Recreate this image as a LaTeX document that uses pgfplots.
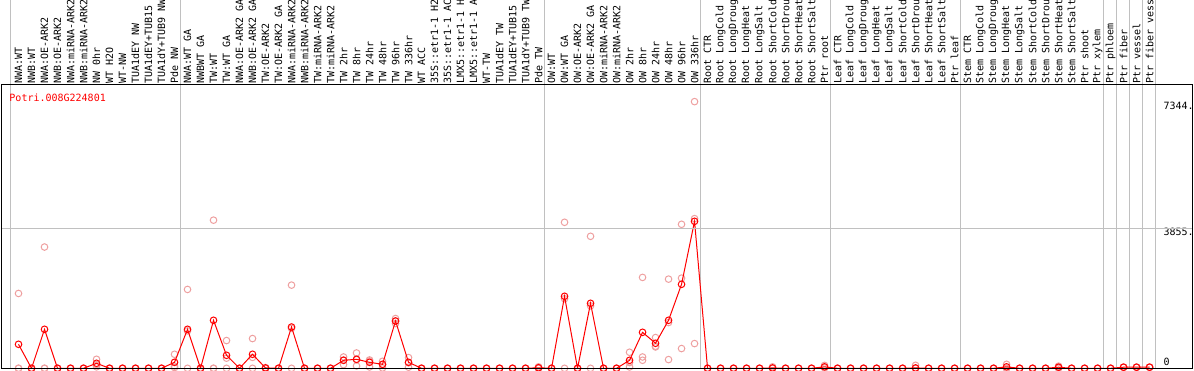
\documentclass[border=0pt]{standalone}
\usepackage{fontspec}
\setmainfont{DejaVu Sans Mono}
\usepackage{pgfplots}
\usepackage{pgfplotstable}
\pgfplotsset{compat=1.18}
\definecolor{mred}{RGB}{255,0,0}
\definecolor{mpink}{RGB}{238,160,160}
\definecolor{mgrid}{RGB}{192,192,192}

\pgfplotstableread{
x y
1 661
2 0
3 1074
4 0
5 0
6 0
7 138
8 0
9 0
10 0
11 0
12 0
13 165
14 1074
15 0
16 1322
17 358
18 0
19 386
20 10
21 0
22 1137
23 0
24 0
25 0
26 220
27 248
28 165
29 110
30 1303
31 165
32 0
33 0
34 0
35 0
36 0
37 0
38 0
39 0
40 0
41 15
42 0
43 1983
44 0
45 1790
46 0
47 0
48 220
49 991
50 689
51 1322
52 2313
53 4048
54 0
55 0
56 0
57 0
58 0
59 10
60 0
61 0
62 0
63 40
64 0
65 0
66 0
67 0
68 0
69 0
70 10
71 0
72 0
73 0
74 0
75 0
76 0
77 40
78 0
79 0
80 0
81 30
82 0
83 0
84 0
85 0
86 30
87 30
88 30
}\meandata

\pgfplotstableread{
x a b c
1 2061 0 0
2 0 0 0
3 3340 0 0
4 0 0 0
5 0 0 0
6 0 0 0
7 248 100 40
8 0 0 0
9 0 0 0
10 0 0 0
11 0 0 0
12 0 0 0
13 386 60 20
14 2172 1030 0
15 0 0 0
16 4080 0 0
17 764 280 0
18 0 0 0
19 819 300 0
20 20 0 0
21 0 0 0
22 2291 1100 0
23 0 0 0
24 0 0 0
25 0 0 0
26 312 230 100
27 423 240 64
28 202 230 36
29 193 100 10
30 1371 1297 1233
31 295 150 30
32 0 0 0
33 0 0 0
34 0 0 0
35 0 0 0
36 0 0 0
37 0 0 0
38 0 0 0
39 0 0 0
40 0 0 0
41 40 0 0
42 0 0 0
43 4021 1916 0
44 0 0 0
45 3635 1720 0
46 0 0 0
47 0 0 0
48 442 158 36
49 2503 312 221
50 847 588 608
51 2456 1260 240
52 3966 2484 544
53 7344 4122 681
54 0 0 0
55 0 0 0
56 0 0 0
57 0 0 0
58 0 0 0
59 40 0 0
60 0 0 0
61 0 0 0
62 0 0 0
63 80 30 10
64 0 0 0
65 0 0 0
66 0 0 0
67 0 0 0
68 0 0 0
69 0 0 0
70 83 0 0
71 0 0 0
72 0 0 0
73 0 0 0
74 0 0 0
75 0 0 0
76 0 0 0
77 110 0 0
78 0 0 0
79 0 0 0
80 0 0 0
81 60 30 0
82 0 0 0
83 0 0 0
84 0 0 0
85 0 0 0
86 30 30 30
87 30 30 30
88 30 30 30
}\repdata

\begin{document}
\begin{tikzpicture}
\begin{axis}[
  at={(2pt,1.7pt)}, anchor=south west,
  scale only axis, width=1190.7pt, height=283.3pt,
  xmin=-0.27, xmax=91.32, ymin=0, ymax=7802,
  axis line style={black, line width=1pt},
  axis on top,
  xtick={1,...,88},
  xticklabels={{NWA:WT},{NWB:WT},{NWA:OE-ARK2},{NWB:OE-ARK2},{NWA:miRNA-ARK2},{NWB:miRNA-ARK2},{NW 0hr},{WT H2O},{WT-NW},{TUA1dEY NW},{TUA1dEY+TUB15},{TUA1dY+TUB9 NW},{Pde NW},
  {NWA:WT GA},{NWBWT GA},{TW:WT},{TW:WT GA},{NWA:OE-ARK2 GA},{NWB:OE-ARK2 GA},{TW:OE-ARK2},{TW:OE-ARK2 GA},{NWA:miRNA-ARK2},{NWB:miRNA-ARK2},{TW:miRNA-ARK2},{TW:miRNA-ARK2},{TW 2hr},{TW 8hr},{TW 24hr},{TW 48hr},{TW 96hr},{TW 336hr},{WT ACC},{35S::etr1-1 H2},{35S::etr1-1 AC},{LMX5::etr1-1 H},{LMX5::etr1-1 A},{WT-TW},{TUA1dEY TW},{TUA1dEY+TUB15},{TUA1dY+TUB9 TW},{Pde TW},
  {OW:WT},{OW:WT GA},{OW:OE-ARK2},{OW:OE-ARK2 GA},{OW:miRNA-ARK2},{OW:miRNA-ARK2},{OW 2hr},{OW 8hr},{OW 24hr},{OW 48hr},{OW 96hr},{OW 336hr},
  {Root CTR},{Root LongCold},{Root LongDroug},{Root LongHeat},{Root LongSalt},{Root ShortCold},{Root ShortDrou},{Root ShortHeat},{Root ShortSalt},{Ptr root},
  {Leaf CTR},{Leaf LongCold},{Leaf LongDroug},{Leaf LongHeat},{Leaf LongSalt},{Leaf ShortCold},{Leaf ShortDrou},{Leaf ShortHeat},{Leaf ShortSalt},{Ptr leaf},
  {Stem CTR},{Stem LongCold},{Stem LongDroug},{Stem LongHeat},{Stem LongSalt},{Stem ShortCold},{Stem ShortDrou},{Stem ShortHeat},{Stem ShortSalt},{Ptr shoot},
  {Ptr xylem},{Ptr phloem},{Ptr fiber},{Ptr vessel},{Ptr fiber vess}},
  xticklabel pos=upper,
  xticklabel style={rotate=90, anchor=west, inner sep=0pt, font=\fontsize{10}{10}\selectfont},
  xticklabel shift=1.5pt,
  major tick length=0pt,
  ytick={3855}, yticklabels={},
  ymajorgrids, grid style={mgrid, line width=1pt},
  clip mode=individual,
]
\pgfplotsinvokeforeach{0.40,13.46,41.45,53.48,63.45,73.45,84.42,85.48,86.42,87.42,88.48}{
  \draw[mgrid, line width=1pt] (axis cs:#1,0) -- (axis cs:#1,10400);
}
\addplot[only marks, mpink, mark=o, mark size=3.3pt, mark options={line width=1pt}] table[x=x,y=a]{\repdata};
\addplot[only marks, mpink, mark=o, mark size=3.3pt, mark options={line width=1pt}] table[x=x,y=b]{\repdata};
\addplot[only marks, mpink, mark=o, mark size=3.3pt, mark options={line width=1pt}] table[x=x,y=c]{\repdata};
\addplot[mred, line width=1pt, mark=o, mark size=3.3pt, mark options={solid, line width=1pt}] table[x=x,y=y]{\meandata};
\node[anchor=north west, inner sep=0pt, text=mred] at (axis cs:0.29,7574) {Potri.008G224801};
\node[anchor=north west, inner sep=0pt] at (axis cs:89.06,7344) {7344.};
\node[anchor=north west, inner sep=0pt] at (axis cs:89.06,3855) {3855.};
\node[anchor=base west, inner sep=0pt, yshift=3.3pt] at (axis cs:89.06,0) {0};
\end{axis}
\pgfresetboundingbox
\useasboundingbox (0,0) rectangle (1194pt,370pt);
\end{tikzpicture}
\end{document}
